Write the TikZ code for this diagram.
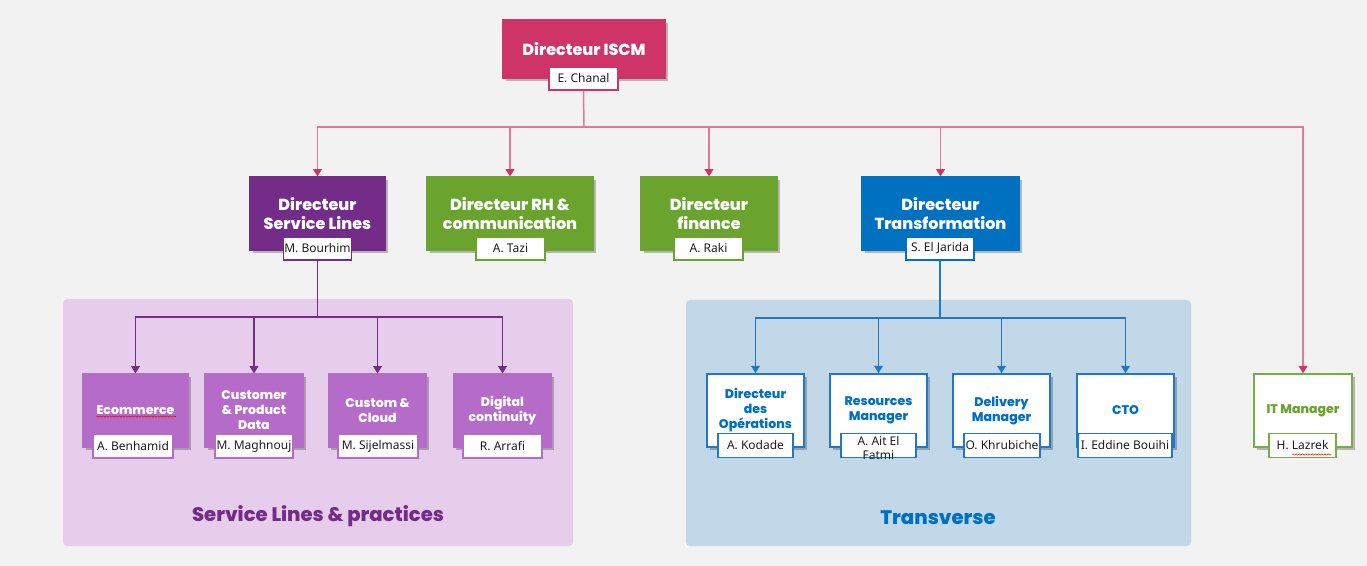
\documentclass[tikz,border=0pt]{standalone}
\usepackage{fontspec}
\setmainfont{Noto Sans}
\newfontfamily\popfont{Poppins}[BoldFont={* ExtraBold}]
\usetikzlibrary{shadows,arrows.meta,decorations.pathmorphing}

\definecolor{iscmPink}{RGB}{207,52,104}
\definecolor{pinkLine}{RGB}{224,120,155}
\definecolor{slPurple}{RGB}{115,44,135}
\definecolor{subPurple}{RGB}{181,108,201}
\definecolor{rhGreen}{RGB}{106,164,47}
\definecolor{itGreen}{RGB}{119,173,69}
\definecolor{trBlue}{RGB}{0,112,192}
\definecolor{subBlue}{RGB}{31,120,200}
\definecolor{areaPurple}{RGB}{230,205,236}
\definecolor{areaBlue}{RGB}{194,215,232}
\definecolor{pageGray}{RGB}{242,242,242}
\definecolor{nameGray}{RGB}{30,30,30}

\tikzset{
  boxshadow/.style={drop shadow={shadow xshift=2pt,shadow yshift=-2pt,opacity=.25,fill=black}},
  headbox/.style={draw=#1,fill=#1,line width=.8pt,text=white,align=center,inner sep=0pt,
    font=\popfont\bfseries\fontsize{12}{14.2}\selectfont,boxshadow},
  practicebox/.style={draw=subPurple,fill=subPurple,line width=.8pt,text=white,align=center,inner sep=0pt,
    minimum width=73.5pt,minimum height=54.75pt,font=\popfont\bfseries\fontsize{9.4}{11.2}\selectfont,boxshadow},
  whitebox/.style={draw=#1,fill=white,line width=1.2pt,align=center,inner sep=0pt,
    minimum width=72.75pt,minimum height=54.75pt,font=\popfont\bfseries\fontsize{9.4}{11.2}\selectfont,boxshadow},
  namebox/.style={draw=#1,fill=white,line width=1.2pt,text=nameGray,inner sep=0pt,
    minimum height=17.25pt,font=\fontsize{9}{11}\selectfont},
  grouplabel/.style={font=\popfont\bfseries\fontsize{14.7}{17}\selectfont,inner sep=0pt},
  pinkln/.style={draw=pinkLine,line width=1.1pt,-{Triangle[width=6.5pt,length=5.5pt,color=iscmPink]}},
  slln/.style={draw=slPurple,line width=1.1pt,-{Triangle[width=6.5pt,length=5.5pt]}},
  trln/.style={draw=subBlue,line width=1.1pt,-{Triangle[width=6.5pt,length=5.5pt]}},
  squig/.style={draw=red,line width=.4pt,decorate,decoration={snake,segment length=2.4pt,amplitude=.5pt}}
}

\begin{document}
\begin{tikzpicture}[x=0.75pt,y=0.75pt,yscale=-1,xscale=1]
% page
\fill[pageGray] (0,0) rectangle (1367,566);
\useasboundingbox (0,0) rectangle (1367,566);

% group areas
\fill[areaPurple,rounded corners=3pt] (63,299) rectangle (573,546);
\fill[areaBlue,rounded corners=3pt] (686,300) rectangle (1191,546);
\node[grouplabel,text=slPurple] (gSL) at (318,516) {Service Lines \& practices};
\node[grouplabel,text=trBlue] (gTR) at (938,518) {Transverse};

% top
\node[headbox=iscmPink,minimum width=121.5pt,minimum height=43.5pt] (dISCM) at (584,49) {Directeur ISCM};
\node[namebox=iscmPink,minimum width=51.75pt] (nISCM) at (583.5,78.5) {E. Chanal};

% directors
\node[headbox=slPurple,minimum width=101.25pt,minimum height=54.75pt] (dSL) at (317.5,213.5) {Directeur\\Service Lines};
\node[namebox=slPurple,minimum width=51pt] (nSL) at (317.5,248.5) {M. Bourhim};

\node[headbox=rhGreen,minimum width=124.5pt,minimum height=54.75pt] (dRH) at (510,213.5) {Directeur RH \&\\communication};
\node[namebox=rhGreen,minimum width=51.75pt] (nRH) at (510.5,248.5) {A. Tazi};

\node[headbox=rhGreen,minimum width=102pt,minimum height=54.75pt] (dFI) at (709,213.5) {Directeur\\finance};
\node[namebox=rhGreen,minimum width=51.75pt] (nFI) at (708.5,248.5) {A. Raki};

\node[headbox=trBlue,minimum width=117.75pt,minimum height=54.75pt] (dTR) at (940.5,213.5) {Directeur\\Transformation};
\node[namebox=trBlue,minimum width=51pt] (nTR) at (940,248.5) {S. El Jarida};

% service lines & practices
\node[practicebox,minimum width=78.75pt] (sEcom) at (135.5,410.5) {Ecommerce};
\node[namebox=subPurple,minimum width=60pt,minimum height=18pt] (nEcom) at (133,446) {A. Benhamid};

\node[practicebox] (sCust) at (254,410.5) {Customer\\\& Product\\Data};
\node[namebox=subPurple,minimum width=58.5pt,minimum height=18pt] (nCust) at (254,446) {M. Maghnouj};

\node[practicebox] (sCloud) at (377.5,410.5) {Custom \&\\Cloud};
\node[namebox=subPurple,minimum width=60pt,minimum height=18pt] (nCloud) at (378,446) {M. Sijelmassi};

\node[practicebox] (sDig) at (502.5,410.5) {Digital\\continuity};
\node[namebox=subPurple,minimum width=59.25pt,minimum height=18pt] (nDig) at (502.5,446) {R. Arrafi};

% transverse
\node[whitebox=subBlue,text=trBlue] (tOps) at (755.5,410.5) {Directeur\\des\\Opérations};
\node[namebox=subBlue,minimum width=56.25pt,minimum height=18pt] (nOps) at (755.5,445.5) {A. Kodade};

\node[whitebox=subBlue,text=trBlue] (tRes) at (878.5,410.5) {Resources\\Manager};
\node[namebox=subBlue,minimum width=56.25pt,minimum height=18pt] (nRes) at (878.5,445.5) {};
\node[text=nameGray,align=center,inner sep=0pt,font=\fontsize{9}{11}\selectfont] (nResTxt) at (878.5,448) {A. Ait El\\Fatmi};

\node[whitebox=subBlue,text=trBlue] (tDel) at (1001.5,410.5) {Delivery\\Manager};
\node[namebox=subBlue,minimum width=57pt,minimum height=18pt] (nDel) at (1002,445.5) {O. Khrubiche};

\node[whitebox=subBlue,text=trBlue] (tCTO) at (1125.5,410.5) {CTO};
\node[namebox=subBlue,minimum width=70.5pt,minimum height=18pt] (nCTO) at (1125,445.5) {I. Eddine Bouihi};

% it manager
\node[whitebox=itGreen,text=rhGreen,minimum width=73.5pt] (dIT) at (1303,410.5) {IT Manager};
\node[namebox=itGreen,minimum width=50.25pt,minimum height=18pt] (nIT) at (1302.5,445.5) {H. Lazrek};

% spelling marks
\draw[squig] (96,416.5) -- (176,416.5);
\draw[squig] (1292,454.5) -- (1331,454.5);

% connectors
\coordinate (hubTop) at (584,127);
\draw[pinkLine,line width=1.1pt] (nISCM.south) -- (hubTop);
\foreach \d in {dSL,dRH,dFI,dTR,dIT}
  \draw[pinkln] (hubTop) -| (\d.north);

\coordinate (hubSL) at (317.5,317);
\draw[slPurple,line width=1.1pt] (nSL.south) -- (hubSL);
\foreach \s in {sEcom,sCust,sCloud,sDig}
  \draw[slln] (hubSL) -| (\s.north);

\coordinate (hubTR) at (940,318);
\draw[subBlue,line width=1.1pt] (nTR.south) -- (hubTR);
\foreach \t in {tOps,tRes,tDel,tCTO}
  \draw[trln] (hubTR) -| (\t.north);

\end{tikzpicture}
\end{document}
